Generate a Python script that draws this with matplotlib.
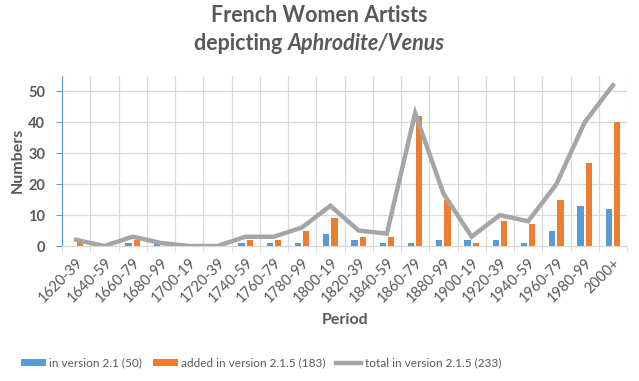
import matplotlib
matplotlib.use("Agg")
import matplotlib.pyplot as plt
import numpy as np
from matplotlib.ticker import FixedLocator

plt.rcParams['font.family'] = ['Lato', 'DejaVu Sans']

periods = ["1620-39", "1640-59", "1660-79", "1680-99", "1700-19", "1720-39",
           "1740-59", "1760-79", "1780-99", "1800-19", "1820-39", "1840-59",
           "1860-79", "1880-99", "1900-19", "1920-39", "1940-59", "1960-79",
           "1980-99", "2000+"]
v21 = [0, 0, 1, 1, 0, 0, 1, 1, 1, 4, 2, 1, 1, 2, 2, 2, 1, 5, 13, 12]
added215 = [2, 0, 2, 0, 0, 0, 2, 2, 5, 9, 3, 3, 42, 15, 1, 8, 7, 15, 27, 40]
total215 = [2, 0, 3, 1, 0, 0, 3, 3, 6, 13, 5, 4, 43, 17, 3, 10, 8, 20, 40, 52]
yticks = [0, 10, 20, 30, 40, 50]

TXT = "#595959"
BLUE = "#5B9BD5"
ORANGE = "#ED7D31"
GRAY = "#A5A5A5"
GRID = "#D9D9D9"

fig = plt.figure(figsize=(6.39, 3.81), dpi=100)
ax = fig.add_axes([62/639, 1-246/381, (627-62)/639, (246-76)/381])

x = np.arange(len(periods))
w = 0.22
off = 0.145
b1 = ax.bar(x - off, v21, width=w, color=BLUE, label="in version 2.1 (50)", zorder=3)
b2 = ax.bar(x + off, added215, width=w, color=ORANGE, label="added in version 2.1.5 (183)", zorder=3)
l1, = ax.plot(x, total215, color=GRAY, lw=3.2, label="total in version 2.1.5 (233)", zorder=4,
              solid_joinstyle='miter')

ax.set_xlim(-0.5, len(periods) - 0.5)
ax.set_ylim(0, 55)
ax.set_yticks(yticks)
ax.set_yticklabels([str(t) for t in yticks], fontsize=10.5, fontweight='bold', color=TXT)
ax.set_xticks(x)
ax.set_xticklabels(periods, rotation=45, ha='right', rotation_mode='anchor',
                   fontsize=10.5, color=TXT)
ax.xaxis.set_minor_locator(FixedLocator(np.arange(-0.5, len(periods), 1)))
ax.tick_params(axis='x', which='major', length=0, pad=7)
ax.tick_params(axis='x', which='minor', length=4, color=GRID)
ax.tick_params(axis='y', length=4, color=BLUE, pad=8)

ax.grid(True, axis='y', color=GRID, lw=0.9, zorder=0)
ax.grid(True, axis='x', which='minor', color=GRID, lw=0.9, zorder=0)
for s in ['top', 'right']:
    ax.spines[s].set_visible(False)
ax.spines['left'].set_color(BLUE)
ax.spines['bottom'].set_color(GRID)

fig.text(18/639, 1-160/381, "Numbers", fontsize=11.5, fontweight='bold', color=TXT,
         ha='center', va='center', rotation=90)
fig.text(345/639, 1-320/381, "Period", fontsize=11.5, fontweight='bold', color=TXT,
         ha='center', va='center')

# Title
fig.text(0.5, 1-15/381, "French Women Artists", fontsize=15.5, fontweight='bold',
         color=TXT, ha='center', va='center')
fig.canvas.draw()
r = fig.canvas.get_renderer()
t1 = fig.text(0, 1-43/381, "depicting ", fontsize=15.5, fontweight='bold', color=TXT,
              ha='left', va='center')
t2 = fig.text(0, 1-43/381, "Aphrodite/Venus", fontsize=15.5, fontweight='bold',
              style='italic', color=TXT, ha='left', va='center')
w1 = t1.get_window_extent(r).width
w2 = t2.get_window_extent(r).width
W = fig.bbox.width
start = (W - (w1 + w2)) / 2
t1.set_x(start / W)
t2.set_x((start + w1) / W)

leg = fig.legend(handles=[b1, b2, l1], loc='center', bbox_to_anchor=(261/639, 1-363/381),
                 ncol=3, frameon=False, fontsize=8.5, handlelength=2.1, handleheight=0.55,
                 columnspacing=0.9, handletextpad=0.3)
for t in leg.get_texts():
    t.set_color(TXT)

fig.savefig("out.png", dpi=100)
